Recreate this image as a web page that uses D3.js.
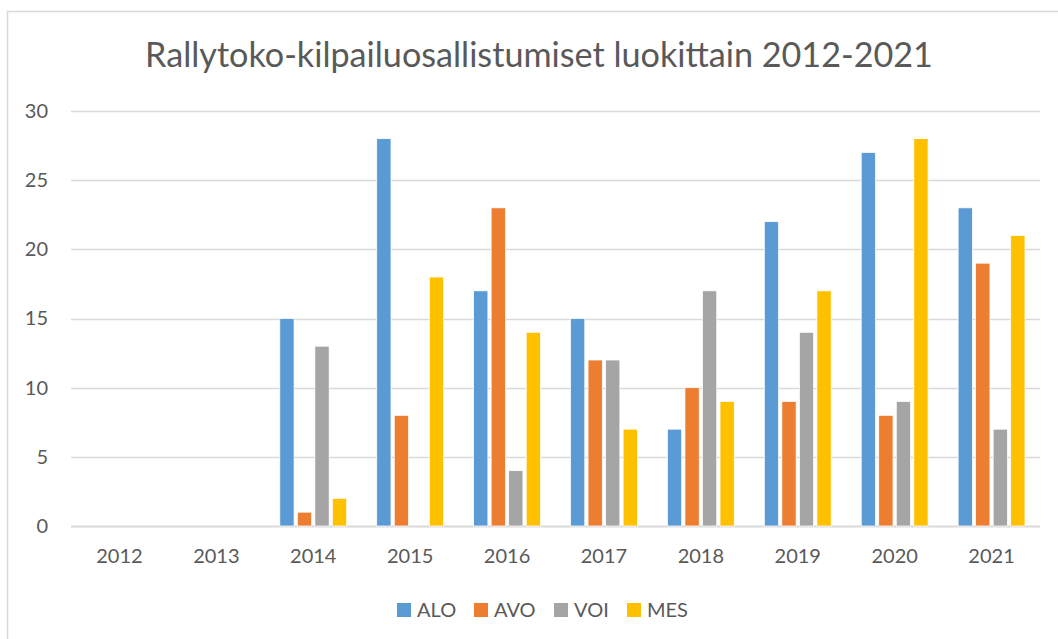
<!DOCTYPE html>
<html>
<head>
<meta charset="utf-8">
<script src="https://cdn.jsdelivr.net/npm/d3@7"></script>
<style>
  html, body { margin: 0; padding: 0; background: #fff; }
  svg { display: block; font-family: Lato, "Open Sans", sans-serif; }
</style>
</head>
<body>
<div id="chart"></div>
<script>
// data
const years = ['2012', '2013', '2014', '2015', '2016', '2017', '2018', '2019', '2020', '2021'];
const seriesNames = ['ALO', 'AVO', 'VOI', 'MES'];
const alo = [0, 0, 15, 28, 17, 15, 7, 22, 27, 23];
const avo = [0, 0, 1, 8, 23, 12, 10, 9, 8, 19];
const voi = [0, 0, 13, 0, 4, 12, 17, 14, 9, 7];
const mes = [0, 0, 2, 18, 14, 7, 9, 17, 28, 21];
const yTicks = [0, 5, 10, 15, 20, 25, 30];
const titleText = 'Rallytoko-kilpailuosallistumiset luokittain 2012-2021';

const seriesValues = { ALO: alo, AVO: avo, VOI: voi, MES: mes };
const colors = d3.scaleOrdinal()
    .domain(seriesNames)
    .range(['#5B9BD5', '#ED7D31', '#A5A5A5', '#FFC000']);

const width = 1058, height = 639;
const margin = { left: 71, right: 18, top: 111, bottom: 113 };
const textColor = '#595959';
const fontFamily = 'Lato, "Open Sans", sans-serif';

const svg = d3.select('#chart').append('svg')
    .attr('width', width)
    .attr('height', height);

// chart frame
svg.append('rect')
    .attr('x', 7.5).attr('y', 11.5)
    .attr('width', width).attr('height', height)
    .attr('fill', '#fff')
    .attr('stroke', '#D9D9D9')
    .attr('stroke-width', 1.5);

// title, shrunk to fit the width it has in the reference
const title = svg.append('text')
    .attr('x', 539).attr('y', 67)
    .attr('text-anchor', 'middle')
    .attr('fill', textColor)
    .style('font-size', '32px')
    .text(titleText);
const tw = title.node().getComputedTextLength();
title.style('font-size', (32 * 788 / tw) + 'px');

const x0 = d3.scaleBand()
    .domain(years)
    .range([margin.left, width - margin.right])
    .paddingInner(0.31)
    .paddingOuter(0.155);

const x1 = d3.scaleBand()
    .domain(seriesNames)
    .range([0, x0.bandwidth()])
    .paddingInner(0.186);

const y = d3.scaleLinear()
    .domain([0, 30])
    .range([height - margin.bottom, margin.top]);

// gridlines
svg.append('g')
    .selectAll('line')
    .data(yTicks)
    .join('line')
    .attr('x1', margin.left).attr('x2', width - margin.right)
    .attr('y1', d => Math.round(y(d)) + 0.5)
    .attr('y2', d => Math.round(y(d)) + 0.5)
    .attr('stroke', '#D9D9D9')
    .attr('stroke-width', d => d === 0 ? 2 : 1.5);

// y axis labels
const yAxis = svg.append('g')
    .attr('transform', `translate(${margin.left - 23},0)`)
    .call(d3.axisLeft(y).tickValues(yTicks).tickSize(0).tickPadding(0));
yAxis.select('.domain').remove();
yAxis.selectAll('text')
    .attr('fill', textColor)
    .style('font-size', '20px')
    .style('font-family', fontFamily);

// x axis labels
const xAxis = svg.append('g')
    .attr('transform', `translate(0,${y(0) + 23})`)
    .call(d3.axisBottom(x0).tickSize(0).tickPadding(0));
xAxis.select('.domain').remove();
xAxis.selectAll('text')
    .attr('fill', textColor)
    .attr('dy', '0.71em')
    .style('font-size', '20px')
    .style('font-family', fontFamily);

// bars
const groups = svg.append('g')
    .selectAll('g')
    .data(years)
    .join('g')
    .attr('transform', d => `translate(${x0(d)},0)`);

groups.selectAll('rect')
    .data((yr, i) => seriesNames.map(s => ({ key: s, value: seriesValues[s][i] })))
    .join('rect')
    .filter(d => d.value > 0)
    .attr('x', d => x1(d.key))
    .attr('y', d => y(d.value))
    .attr('width', x1.bandwidth())
    .attr('height', d => y(0) - y(d.value))
    .attr('fill', d => colors(d.key))
    .attr('stroke', '#fff')
    .attr('stroke-width', 0.75);

// legend
const legendX = [397, 474, 554, 627];
const legend = svg.append('g')
    .selectAll('g')
    .data(seriesNames)
    .join('g')
    .attr('transform', (d, i) => `translate(${legendX[i]},603)`);

legend.append('rect')
    .attr('width', 14).attr('height', 14)
    .attr('fill', d => colors(d));

legend.append('text')
    .attr('x', 20).attr('y', 14)
    .attr('fill', textColor)
    .style('font-size', '20px')
    .text(d => d);
</script>
</body>
</html>
